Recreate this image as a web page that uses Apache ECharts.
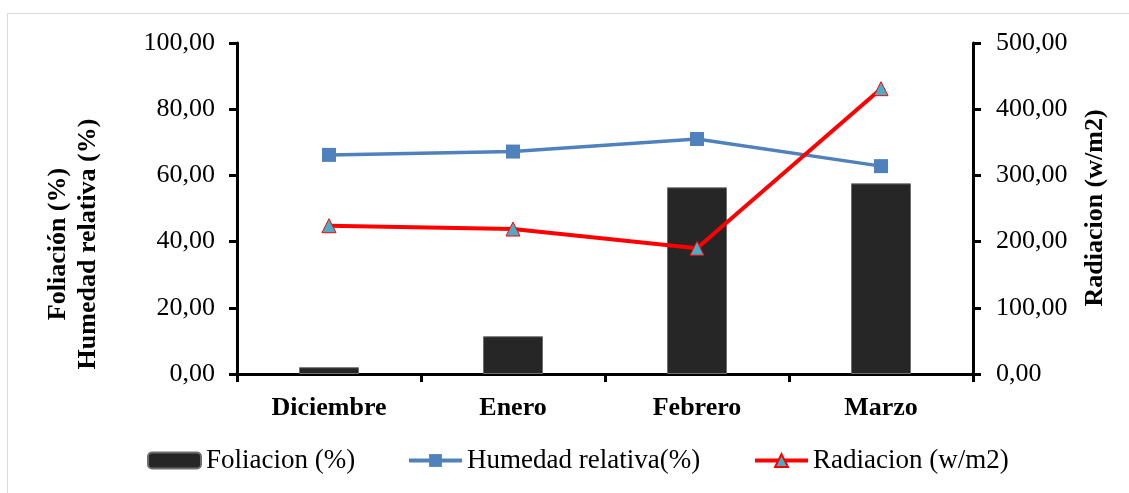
<!DOCTYPE html>
<html>
<head>
<meta charset="utf-8">
<title>Foliación, humedad relativa y radiación</title>
<script src="https://cdn.jsdelivr.net/npm/echarts@6/dist/echarts.min.js"></script>
<style>
  html, body { margin: 0; padding: 0; background: #ffffff; }
  #chart { width: 1129px; height: 493px; }
</style>
</head>
<body>
<div id="chart"></div>
<script>
// Meses del periodo de muestreo
const categories = ['Diciembre', 'Enero', 'Febrero', 'Marzo'];
// Foliación (%) por mes
const foliacion = [2.05, 11.4, 56.4, 57.6];
// Humedad relativa (%) por mes
const humedad = [66.2, 67.2, 71.0, 62.8];
// Radiación (w/m2) por mes, eje derecho
const radiacion = [224, 219, 190, 431];

const FONT = '"Liberation Serif", "Times New Roman", serif';
const fmt = v => v.toFixed(2).replace('.', ',');

const chart = echarts.init(document.getElementById('chart'), null, { renderer: 'canvas' });

const axisLineStyle = { color: '#000000', width: 3 };

// One legend block per series so each entry sits at its own position
function legendAt(name, left) {
  return {
    left: left,
    top: 447,
    padding: 0,
    itemWidth: 53,
    itemHeight: 16,
    lineStyle: { width: 4 },
    textStyle: { fontFamily: FONT, fontSize: 27, color: '#000000' },
    data: [{ name: name }]
  };
}

chart.setOption({
  backgroundColor: '#ffffff',
  animation: false,
  grid: { left: 237, right: 156, top: 43, bottom: 119, containLabel: false },
  legend: [
    legendAt('Foliacion (%)', 147),
    legendAt('Humedad relativa(%)', 407),
    legendAt('Radiacion (w/m2)', 753)
  ],
  xAxis: {
    type: 'category',
    data: categories,
    axisLine: { show: true, lineStyle: axisLineStyle },
    axisTick: { show: true, inside: false, length: 8, alignWithLabel: false, lineStyle: axisLineStyle },
    axisLabel: { margin: 21, fontFamily: FONT, fontSize: 26, fontWeight: 'bold', color: '#000000' },
    splitLine: { show: false }
  },
  yAxis: [
    {
      type: 'value',
      min: 0, max: 100, interval: 20,
      axisLine: { show: true, lineStyle: axisLineStyle },
      axisTick: { show: true, inside: false, length: 8, lineStyle: axisLineStyle },
      axisLabel: { margin: 22, fontFamily: FONT, fontSize: 26, color: '#000000', formatter: fmt },
      splitLine: { show: false }
    },
    {
      type: 'value',
      position: 'right',
      min: 0, max: 500, interval: 100,
      axisLine: { show: true, lineStyle: axisLineStyle },
      axisTick: { show: true, inside: false, length: 8, lineStyle: axisLineStyle },
      axisLabel: { margin: 23, fontFamily: FONT, fontSize: 26, color: '#000000', formatter: fmt },
      splitLine: { show: false }
    }
  ],
  series: [
    {
      name: 'Foliacion (%)',
      type: 'bar',
      yAxisIndex: 0,
      barWidth: 60,
      data: foliacion,
      itemStyle: { color: '#262626', borderColor: '#6e6e6e', borderWidth: 1 },
      z: 1
    },
    {
      name: 'Humedad relativa(%)',
      type: 'line',
      yAxisIndex: 0,
      data: humedad,
      symbol: 'rect',
      symbolSize: 14,
      lineStyle: { color: '#4f81bd', width: 3.5 },
      itemStyle: { color: '#4f81bd' },
      z: 3
    },
    {
      name: 'Radiacion (w/m2)',
      type: 'line',
      yAxisIndex: 1,
      data: radiacion,
      symbol: 'triangle',
      symbolSize: 14,
      lineStyle: { color: '#ff0000', width: 4 },
      itemStyle: { color: '#4bacc6', borderColor: '#ff0000', borderWidth: 1 },
      z: 4
    }
  ],
  graphic: [
    {
      type: 'rect',
      shape: { x: 7.5, y: 13.5, width: 1200, height: 600 },
      style: { fill: 'none', stroke: '#d9d9d9', lineWidth: 1 },
      silent: true,
      z: -10
    },
    {
      type: 'text',
      x: 73, y: 244,
      rotation: Math.PI / 2,
      style: {
        text: 'Foliación (%)\nHumedad relativa (%)',
        fontFamily: FONT, fontSize: 26, fontWeight: 'bold', fill: '#000000',
        align: 'center', verticalAlign: 'middle', lineHeight: 30
      }
    },
    {
      type: 'text',
      x: 1095, y: 208,
      rotation: Math.PI / 2,
      style: {
        text: 'Radiacion (w/m2)',
        fontFamily: FONT, fontSize: 26, fontWeight: 'bold', fill: '#000000',
        align: 'center', verticalAlign: 'middle'
      }
    }
  ]
});
</script>
</body>
</html>
